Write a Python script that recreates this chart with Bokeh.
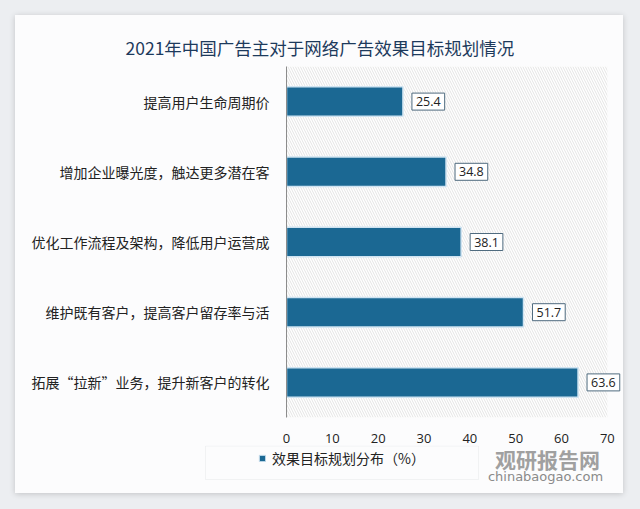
from bokeh.plotting import figure
from bokeh.models import (ColumnDataSource, FactorRange, Range1d, FixedTicker,
                          Label, Legend, LegendItem, BoxAnnotation)
from bokeh.layouts import column
from bokeh.core.properties import value
from bokeh.embed import file_html
from bokeh.resources import INLINE

# ---- data ----
title_text = "2021年中国广告主对于网络广告效果目标规划情况"
categories = [
    "提高用户生命周期价",
    "增加企业曝光度，触达更多潜在客",
    "优化工作流程及架构，降低用户运营成",
    "维护既有客户，提高客户留存率与活",
    "拓展“拉新”业务，提升新客户的转化",
]
values = [25.4, 34.8, 38.1, 51.7, 63.6]
x_ticks = [0, 10, 20, 30, 40, 50, 60, 70]
series_name = "效果目标规划分布（%）"
watermark_cn = "观研报告网"
watermark_en = "chinabaogao.com"

BAR = "#1b6893"
BAR_EDGE = "#cfe3f1"
CARD = "#fcfcfd"
CJK = "Noto Sans CJK SC"

src = ColumnDataSource(dict(cat=categories, val=values,
                            lab=[f"{v:.1f}" for v in values]))

# ---------------- main chart ----------------
p = figure(width=608, height=430, output_backend="svg", toolbar_location=None,
           y_range=FactorRange(*categories[::-1]), x_range=Range1d(0, 73.3),
           min_border_left=271, min_border_right=1, min_border_top=51,
           min_border_bottom=28, border_fill_color=CARD,
           background_fill_color=CARD, outline_line_color=None)
p.frame_align = False

p.title.text = title_text
p.title.align = "left"
p.title.offset = -161
p.title.standoff = 14
p.title.text_font = CJK
p.title.text_font_size = "17.5px"
p.title.text_font_style = "normal"
p.title.text_color = "#1d3a5c"

# hatched plot area (0..70)
p.add_layout(BoxAnnotation(left=0, right=70, fill_color="#ffffff", fill_alpha=1.0,
                           hatch_pattern="\\", hatch_color="#e4e4e4",
                           hatch_scale=5, hatch_weight=1, line_color=None,
                           level="underlay"))

r = p.hbar(y="cat", right="val", height=0.42, source=src, fill_color=BAR,
           line_color=BAR_EDGE, line_width=1.5)

p.text(x="val", y="cat", text="lab", source=src, x_offset=9,
       text_align="left", text_baseline="middle",
       text_font_size="12.5px", text_font=value("Open Sans"), text_color="#222222",
       background_fill_color="#ffffff", border_line_color="#4f6b7f",
       border_line_width=1, padding=(4, 4))

p.xaxis.ticker = FixedTicker(ticks=x_ticks)
p.xaxis.axis_line_color = None
p.xaxis.major_tick_line_color = None
p.xaxis.minor_tick_line_color = None
p.xaxis.major_label_standoff = 10
p.xaxis.major_label_text_font = "Open Sans"
p.xaxis.major_label_text_font_size = "13px"
p.xaxis.major_label_text_color = "#222222"

p.yaxis.axis_line_color = "#8c8c8c"
p.yaxis.axis_line_width = 1
p.yaxis.major_tick_line_color = None
p.yaxis.minor_tick_line_color = None
p.yaxis.major_label_standoff = 11
p.yaxis.major_label_text_font = CJK
p.yaxis.major_label_text_font_size = "14px"
p.yaxis.major_label_text_color = "#222222"

p.grid.visible = False

# ---------------- bottom strip: legend + watermark ----------------
pb = figure(width=608, height=48, output_backend="svg", toolbar_location=None,
            x_range=Range1d(0, 608), y_range=Range1d(48, 0),
            x_axis_type=None, y_axis_type=None,
            min_border=0, border_fill_color=CARD, background_fill_color=CARD,
            outline_line_color=None)
pb.frame_align = False
pb.grid.visible = False

# series renderer used only for its legend swatch (hidden in this strip)
legend_r = pb.hbar(y=0, right="val", height=1, source=src, fill_color=BAR,
                   line_color=BAR_EDGE, line_width=1, visible=False)

pb.add_layout(BoxAnnotation(left=190, right=463, top=0.5, bottom=34,
                            left_units="canvas", right_units="canvas",
                            top_units="canvas", bottom_units="canvas",
                            fill_alpha=0, line_color="#d6d9de", line_width=1))

leg = Legend(items=[LegendItem(label=series_name, renderers=[legend_r])],
             location=(243, 25), orientation="horizontal",
             border_line_color=None, background_fill_alpha=0,
             inactive_fill_alpha=0,
             padding=0, margin=0, spacing=0,
             glyph_width=8, glyph_height=8, label_standoff=6, label_height=16,
             label_text_font=CJK, label_text_font_size="14px",
             label_text_color="#222222")
pb.add_layout(leg, "center")

pb.add_layout(Label(x=532, y=13, x_units="canvas", y_units="canvas",
                    text=watermark_cn, text_align="center", text_baseline="middle",
                    text_font=CJK, text_font_style="bold", text_font_size="21px",
                    text_color="#a0a0a0"))
pb.add_layout(Label(x=530, y=31, x_units="canvas", y_units="canvas",
                    text=watermark_en, text_align="center", text_baseline="middle",
                    text_font="DejaVu Sans", text_font_size="13px",
                    text_color="#8a8a8a"))

card = column(p, pb, spacing=0, margin=(15, 17, 16, 15),
              styles={"box-shadow": "0 1px 6px rgba(0,0,0,0.18)",
                      "background-color": CARD})
layout = column(card, styles={"background-color": "#eceef1"})

open("out.html", "w").write(file_html(layout, INLINE))
